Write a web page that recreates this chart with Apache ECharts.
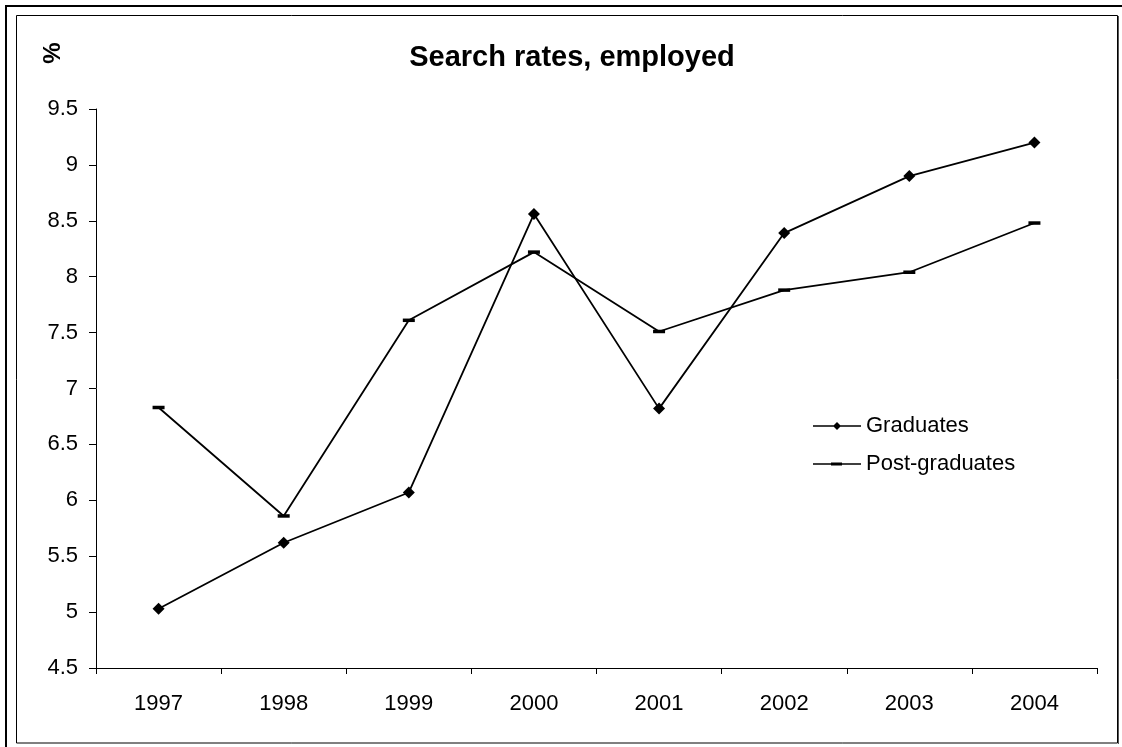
<!DOCTYPE html>
<html>
<head>
<meta charset="utf-8">
<script src="https://cdn.jsdelivr.net/npm/echarts@6/dist/echarts.min.js"></script>
<style>
html,body{margin:0;padding:0;background:#fff;}
#chart{width:1122px;height:747px;}
</style>
</head>
<body>
<div id="chart"></div>
<script>
var years = ['1997','1998','1999','2000','2001','2002','2003','2004'];
var graduates = [5.03, 5.62, 6.07, 8.56, 6.82, 8.39, 8.90, 9.20];
var postGraduates = [6.83, 5.86, 7.61, 8.22, 7.51, 7.88, 8.04, 8.48];
var yMin = 4.5, yMax = 9.5, yStep = 0.5;
var titleText = 'Search rates, employed';
var unitText = '%';
var seriesNames = ['Graduates', 'Post-graduates'];

var FONT = 'Liberation Sans, Arial, sans-serif';
var iconGrad = 'path://M0,3.2H48V4.8H0Z M24,0L28,4L24,8L20,4Z';
var iconPost = 'path://M0,0.7H48V2.3H0Z M18,0H29V3H18Z';

var chart = echarts.init(document.getElementById('chart'), null, {renderer: 'canvas'});
chart.setOption({
  backgroundColor: '#ffffff',
  animation: false,
  title: {
    text: titleText,
    left: 567,
    top: 38,
    textAlign: 'center',
    textStyle: {fontFamily: FONT, fontSize: 29, fontWeight: 'bold', color: '#000'}
  },
  grid: {left: 96, right: 25, top: 109, bottom: 79, containLabel: false},
  xAxis: {
    type: 'category',
    data: years,
    boundaryGap: true,
    axisLine: {lineStyle: {color: '#000', width: 1}},
    axisTick: {show: true, length: 6, lineStyle: {color: '#000'}},
    axisLabel: {color: '#000', fontFamily: FONT, fontSize: 22, margin: 25},
    splitLine: {show: false}
  },
  yAxis: {
    type: 'value',
    min: yMin, max: yMax, interval: yStep,
    axisLine: {show: true, lineStyle: {color: '#000', width: 1}},
    axisTick: {show: true, length: 7, lineStyle: {color: '#000'}},
    axisLabel: {color: '#000', fontFamily: FONT, fontSize: 22, margin: 18},
    splitLine: {show: false}
  },
  legend: {
    orient: 'vertical',
    left: 808,
    top: 410,
    itemWidth: 48,
    itemHeight: 8,
    itemGap: 16,
    symbolKeepAspect: true,
    textStyle: {fontFamily: FONT, fontSize: 22, color: '#000'},
    data: [
      {name: seriesNames[0], icon: iconGrad},
      {name: seriesNames[1], icon: iconPost}
    ]
  },
  series: [
    {
      name: seriesNames[0],
      type: 'line',
      data: graduates,
      symbol: 'diamond',
      symbolSize: 12,
      lineStyle: {color: '#000', width: 1.8},
      itemStyle: {color: '#000'}
    },
    {
      name: seriesNames[1],
      type: 'line',
      data: postGraduates,
      symbol: 'rect',
      symbolSize: [12, 3.5],
      lineStyle: {color: '#000', width: 1.8},
      itemStyle: {color: '#000'}
    }
  ],
  graphic: [
    {type: 'rect', shape: {x: 6, y: 6, width: 1200, height: 800}, style: {fill: null, stroke: '#000', lineWidth: 2}, silent: true, z: 0},
    {type: 'rect', shape: {x: 16.5, y: 15.5, width: 1101, height: 727.5}, style: {fill: null, stroke: '#000', lineWidth: 1}, silent: true, z: 0},
    {type: 'line', shape: {x1: 1118.5, y1: 16, x2: 1118.5, y2: 744}, style: {stroke: '#555', lineWidth: 1}, silent: true, z: 0},
    {type: 'text', x: 53, y: 53, rotation: Math.PI / 2,
     style: {text: unitText, font: 'bold 24px ' + FONT, fill: '#000', textAlign: 'center', textVerticalAlign: 'middle'}}
  ]
});
</script>
</body>
</html>
